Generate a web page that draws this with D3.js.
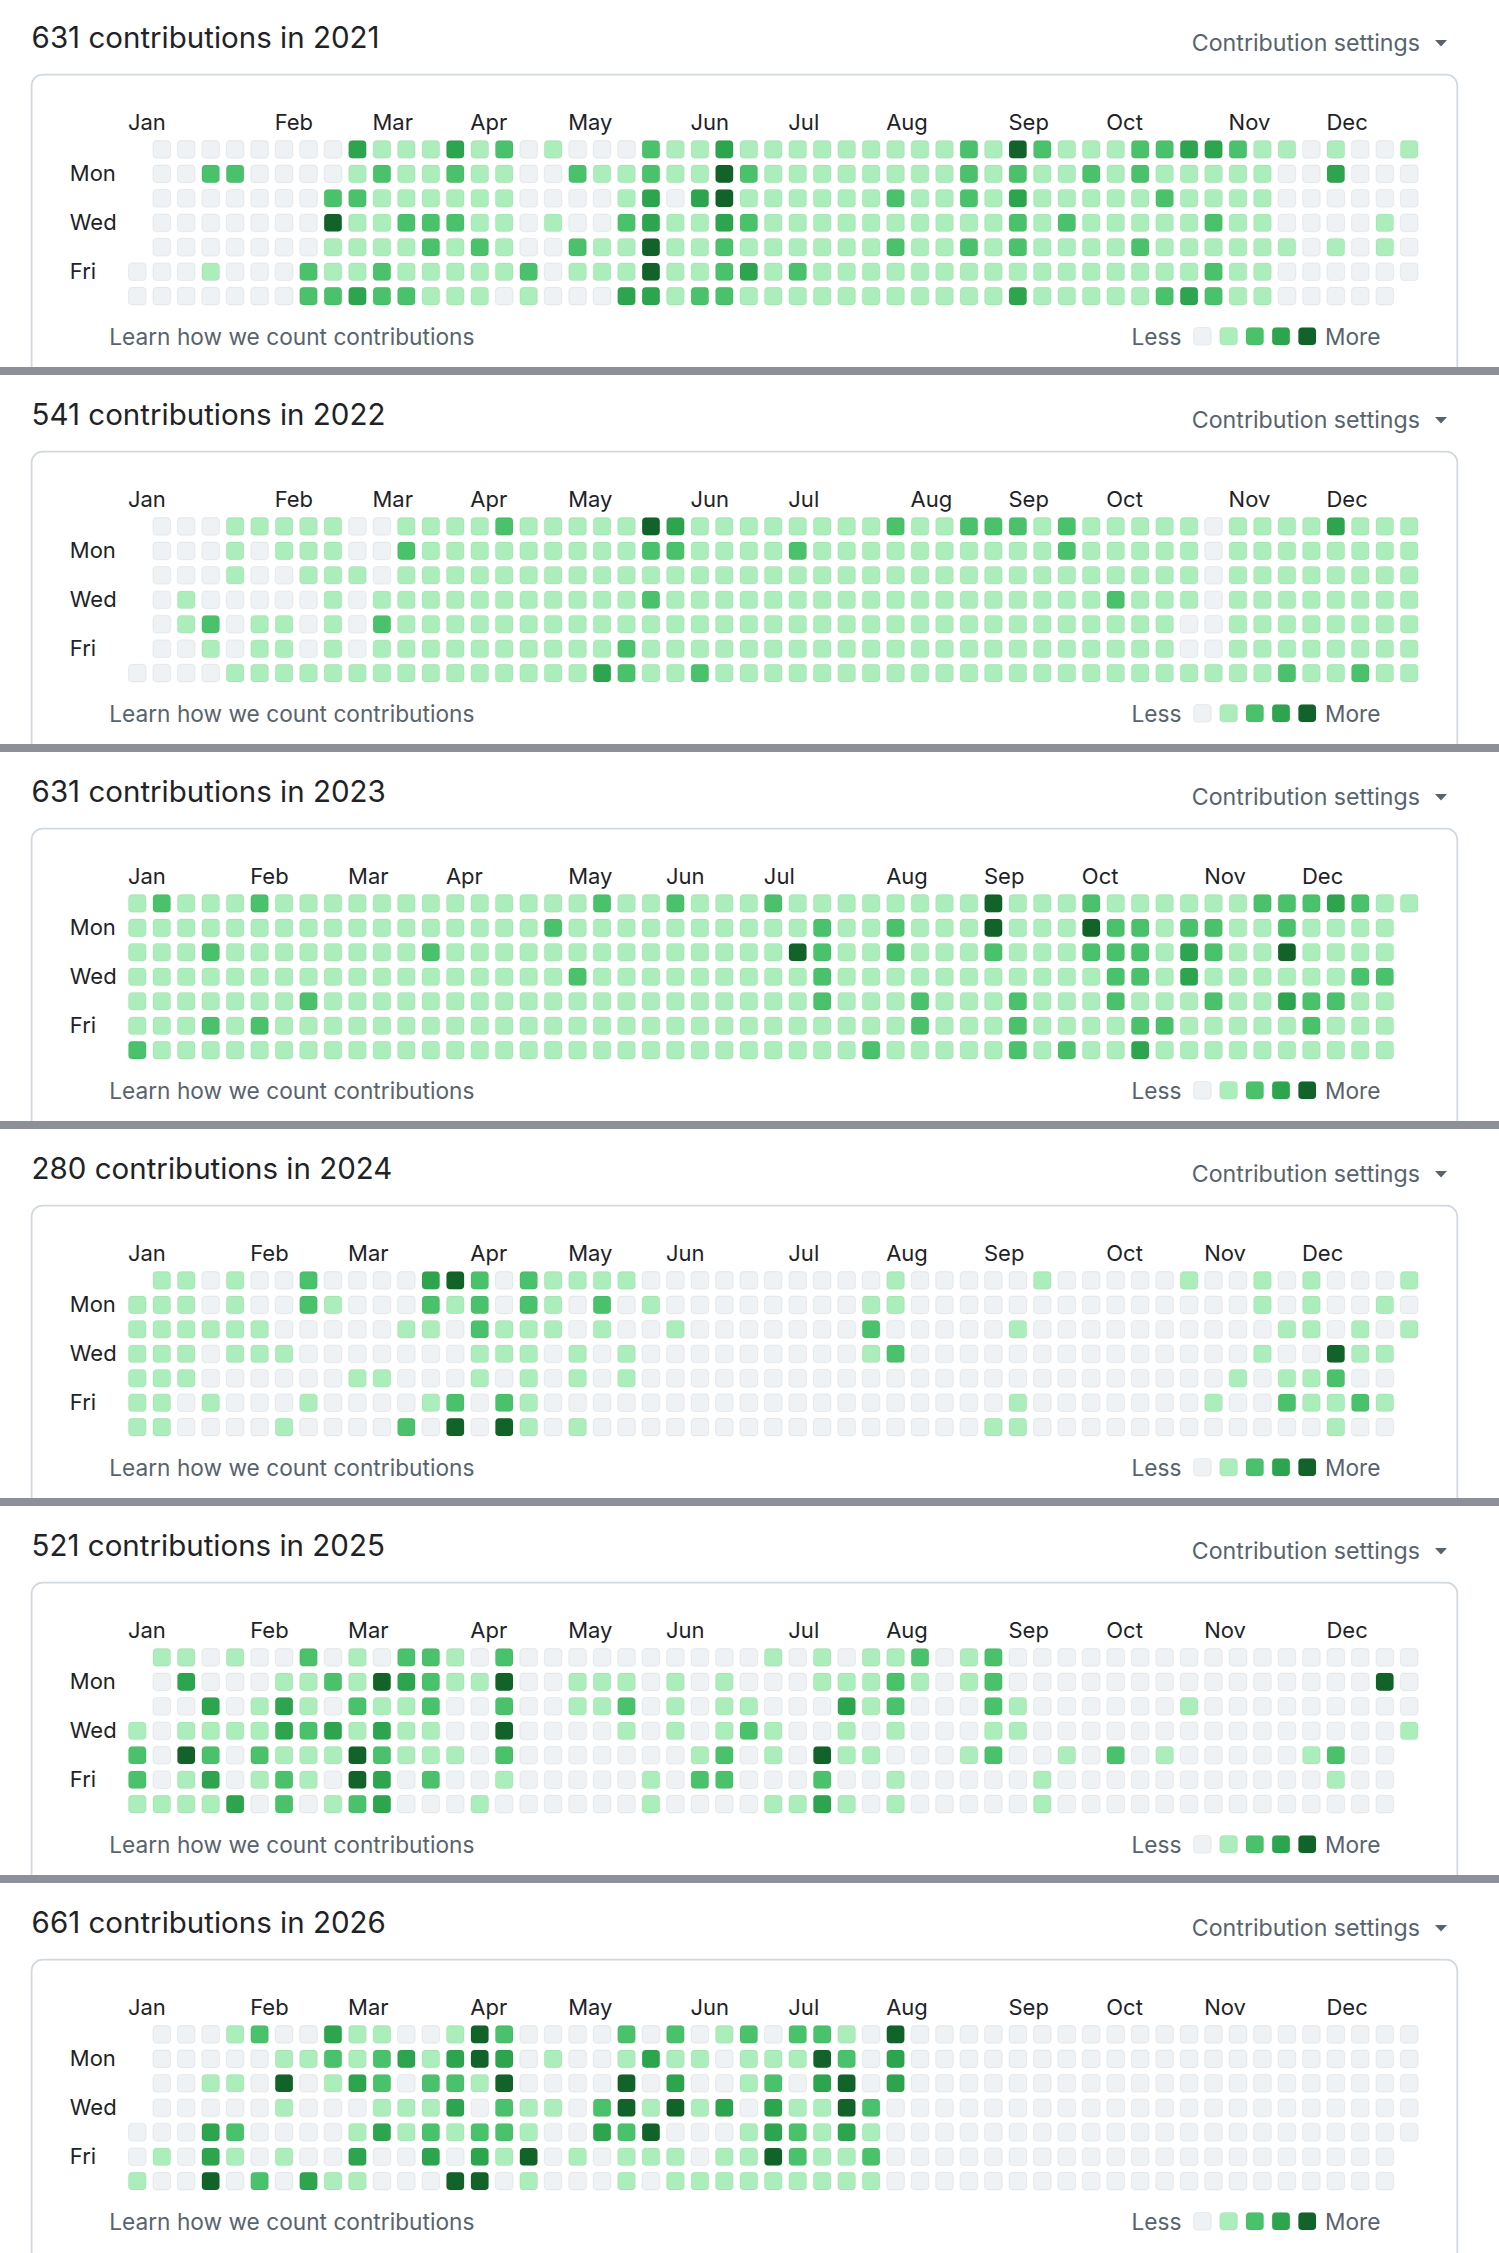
<!DOCTYPE html>
<html>
<head>
<meta charset="utf-8">
<script src="https://cdn.jsdelivr.net/npm/d3@7"></script>
<style>
  body { margin: 0; background: #ffffff; }
  svg text { font-family: Inter, "Liberation Sans", "Noto Sans", sans-serif; }
</style>
</head>
<body>
<div id="chart"></div>
<script>
var years      = [2021, 2022, 2023, 2024, 2025, 2026];
var totals     = [631, 541, 631, 280, 521, 661];
var monthNames = ["Jan", "Feb", "Mar", "Apr", "May", "Jun", "Jul", "Aug", "Sep", "Oct", "Nov", "Dec"];
var dayNames   = ["", "Mon", "", "Wed", "", "Fri", ""];
var legendLevels = [0, 1, 2, 3, 4];
var levelColors  = ["#eff2f5", "#aceebb", "#4ac26b", "#2da44e", "#116329"];

// one string per weekday (Sun..Sat), one char per week column, "-" = day outside the year
var levels2021 = [
  "-0000000031113120100021131111111112142111223321101001",
  "-0022000012112110021121142111111112121121211111003000",
  "-0000000221111110000130341111112112131111121111000000",
  "-0000000411222110100231132111111111121211111211000010",
  "-0000000111121210021141121111112112121111211111101010",
  "00010002112111112011141123121111111111111111211000000",
  "0000000223221110100033122111111111113111112321100000-"
];
var levels2022 = [
  "-0001111100111121111143111111112112221211111011113111",
  "-0001011100211111111122111121111111111211111011111111",
  "-0001001110111111111111111111111111111111111011111111",
  "-0100000101111111111121111111111111111112111011111111",
  "-0120110102111111111111111111111111111111110011111111",
  "-0010110101111111111211111111111111111111110011111111",
  "00001111111111111113211211111111111111111111111211211"
];
var levels2023 = [
  "12111211111111111112112111211111111411121111112223211",
  "1111111111111111121111111111211211141114221221121111-",
  "1112111111112111111111111114211211121112221321141111-",
  "1111111111111111112111111111211111111111221311111122-",
  "1111111211111111111111111111211121112111211121132211-",
  "1112121111111111111111111111111121112111122111112111-",
  "2111111111111111111111111111112111112121131111111111-"
];
var levels2024 = [
  "-1101002000034202111100000000001000001000001001010001",
  "11101002100021202102010000000011000000000000001010010",
  "11111100000110211101001000000020000010000000000110101",
  "1110111000000011101010000000001200000000000000100411-",
  "1110000001100010101010000000000000000000000001011200-",
  "1101000100001202100000000000000000001000000010021121-",
  "1100001000020404101000000000000000011000000000000100-"
];
var levels2025 = [
  "-1101002010221020000000000101011201200000000000000000",
  "-0300011214321140011101010001112101200000000000000040",
  "-0030131021120020011201011000312000210000001000000000",
  "10111132313110040000101012100101000110000000000000001",
  "2042021114211102000000012010411000120010201000001200-",
  "2013012104302001000001022000200100000100000000000100-",
  "1111302012300010000001000011310100000100000000000000-"
];
var levels2026 = [
  "-0001200311001420000202012022104000000000000000000000",
  "-0000011212313430100131101114203000000000000000000000",
  "-0011040132022140000403001203403000000000000000000000",
  "-0000010001113021102414130311420000000000000000000000",
  "00032000013121221003240001321310000000000000000000000",
  "0103101003003031401011101142112000000000000000000000-",
  "1004020311000440100010111111111000000000000000000000-"
];
var levelsByYear = [levels2021, levels2022, levels2023, levels2024, levels2025, levels2026];

var width = 1499, height = 2253;
var panel_h = 377;
var grid_x = 127.9, grid_y = 140;
var pitch = 24.46, gap = 5.66;
var text_dark = "#1f2328", text_muted = "#59636e";

var color = d3.scaleOrdinal().domain(legendLevels).range(levelColors);

var svg = d3.select("#chart").append("svg")
  .attr("width", width)
  .attr("height", height)
  .style("display", "block");

svg.append("rect").attr("width", width).attr("height", height).attr("fill", "#ffffff");

function draw_year(svg, index)
{
  let year = years[index];
  let rows = levelsByYear[index];
  let g = svg.append("g").attr("transform", "translate(0," + (index * panel_h) + ")");

  let x = d3.scaleBand()
    .domain(d3.range(53))
    .range([grid_x, grid_x + 53 * pitch - gap])
    .paddingInner(gap / pitch)
    .paddingOuter(0);
  let y = d3.scaleBand()
    .domain(d3.range(7))
    .range([grid_y, grid_y + 7 * pitch - gap])
    .paddingInner(gap / pitch)
    .paddingOuter(0);

  // heading
  g.append("text")
    .attr("x", 31.6)
    .attr("y", 48)
    .attr("font-size", 29.5)
    .attr("fill", text_dark)
    .text(totals[index] + " contributions in " + year);

  g.append("text")
    .attr("x", 1420)
    .attr("y", 51)
    .attr("text-anchor", "end")
    .attr("font-size", 23.2)
    .attr("fill", text_muted)
    .text("Contribution settings");

  g.append("path")
    .attr("d", "M1435,40 L1447,40 L1441,46.5 Z")
    .attr("fill", text_muted);

  // box, open at the bottom (cut by the separator)
  let bx0 = 31.6, bx1 = 1457.3, by0 = 74.7, r = 11;
  let by1 = index == years.length - 1 ? height : 372;
  g.append("path")
    .attr("d", "M" + bx0 + "," + by1 + " V" + (by0 + r) +
               " A" + r + "," + r + " 0 0 1 " + (bx0 + r) + "," + by0 +
               " H" + (bx1 - r) +
               " A" + r + "," + r + " 0 0 1 " + bx1 + "," + (by0 + r) +
               " V" + by1)
    .attr("fill", "none")
    .attr("stroke", "#d1d9e0")
    .attr("stroke-width", 1.8);

  // days of the year -> week column / weekday row
  let days = d3.timeDays(new Date(year, 0, 1), new Date(year + 1, 0, 1));
  let cells = days.map(function (d) {
    let col = d3.timeWeek.count(d3.timeYear(d), d);
    let row = d.getDay();
    let ch = (rows[row] || "").charAt(col);
    return { date: d, col: col, row: row, level: +ch || 0 };
  });

  g.selectAll("rect.day")
    .data(cells)
    .enter()
    .append("rect")
    .attr("class", "day")
    .attr("x", function (d) { return x(d.col) + 0.6; })
    .attr("y", function (d) { return y(d.row) + 0.6; })
    .attr("width", x.bandwidth() - 1.2)
    .attr("height", y.bandwidth() - 1.2)
    .attr("rx", 3.8)
    .attr("fill", function (d) { return color(d.level); })
    .attr("stroke", "rgba(31,35,40,0.06)")
    .attr("stroke-width", 1.2);

  // month labels: first column whose first in-year day falls in a new month
  let firstOfCol = d3.rollup(cells, function (v) { return d3.min(v, function (c) { return c.date; }); },
                             function (c) { return c.col; });
  let months = [];
  let prev = -1;
  d3.range(53).forEach(function (c) {
    let d = firstOfCol.get(c);
    if (d && d.getMonth() != prev) {
      months.push({ col: c, name: monthNames[d.getMonth()] });
      prev = d.getMonth();
    }
  });

  g.selectAll("text.month")
    .data(months)
    .enter()
    .append("text")
    .attr("class", "month")
    .attr("x", function (d) { return x(d.col); })
    .attr("y", 130)
    .attr("font-size", 22)
    .attr("fill", text_dark)
    .text(function (d) { return d.name; });

  g.selectAll("text.wday")
    .data(dayNames.map(function (n, i) { return { name: n, row: i }; }).filter(function (d) { return d.name; }))
    .enter()
    .append("text")
    .attr("class", "wday")
    .attr("x", 69.8)
    .attr("y", function (d) { return y(d.row) + y.bandwidth() / 2 + 7; })
    .attr("font-size", 22)
    .attr("fill", text_dark)
    .text(function (d) { return d.name; });

  // footer
  g.append("text")
    .attr("x", 109.2)
    .attr("y", 345)
    .attr("font-size", 22.7)
    .attr("fill", text_muted)
    .text("Learn how we count contributions");

  let lx = d3.scaleBand().domain(legendLevels).range([1193, 1193 + 5 * 26.2 - 7.4]).paddingInner(7.4 / 26.2);

  g.append("text")
    .attr("x", 1181.5)
    .attr("y", 345)
    .attr("text-anchor", "end")
    .attr("font-size", 22.7)
    .attr("fill", text_muted)
    .text("Less");

  g.selectAll("rect.legend")
    .data(legendLevels)
    .enter()
    .append("rect")
    .attr("class", "legend")
    .attr("x", function (d) { return lx(d) + 0.6; })
    .attr("y", 327.5)
    .attr("width", lx.bandwidth() - 1.2)
    .attr("height", lx.bandwidth() - 1.2)
    .attr("rx", 3.8)
    .attr("fill", function (d) { return color(d); })
    .attr("stroke", "rgba(31,35,40,0.06)")
    .attr("stroke-width", 1.2);

  g.append("text")
    .attr("x", 1325)
    .attr("y", 345)
    .attr("font-size", 22.7)
    .attr("fill", text_muted)
    .text("More");

  // grey separator between stacked screenshots
  if (index < years.length - 1)
    g.append("rect")
      .attr("x", 0)
      .attr("y", 367)
      .attr("width", width)
      .attr("height", 8)
      .attr("fill", "#8d9099");
}

years.forEach(function (y, i) { draw_year(svg, i); });
</script>
</body>
</html>
